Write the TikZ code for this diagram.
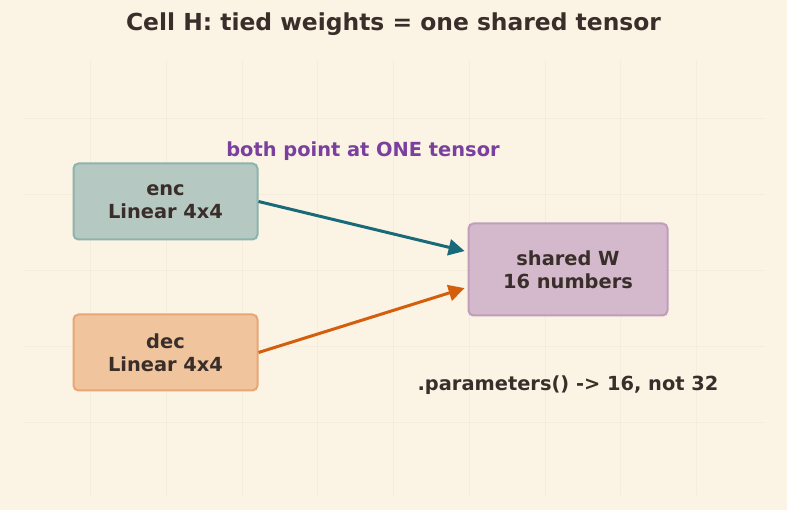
\documentclass[tikz,border=0pt]{standalone}
\usepackage{fontspec}
\setmainfont{DejaVu Sans}
\usetikzlibrary{arrows.meta}

\definecolor{bgcream}{HTML}{FBF3E4}
\definecolor{gridline}{HTML}{F5EDDC}
\definecolor{inkdark}{HTML}{3A2E2A}
\definecolor{encfill}{HTML}{B5C9C2}
\definecolor{encdraw}{HTML}{8DB3AC}
\definecolor{decfill}{HTML}{F0C49D}
\definecolor{decdraw}{HTML}{E8A676}
\definecolor{wfill}{HTML}{D4B9CD}
\definecolor{wdraw}{HTML}{BF9DBB}
\definecolor{encarrow}{HTML}{196A78}
\definecolor{decarrow}{HTML}{D35E0B}
\definecolor{notepurple}{HTML}{7B3F9E}

\tikzset{
  layerbox/.style={rounded corners=5pt, line width=2pt, align=center,
    inner sep=0pt, font=\bfseries\fontsize{19.4}{23}\selectfont, text=inkdark},
  tiearrow/.style={line width=3pt, -{Stealth[length=16pt,width=16pt,inset=0pt]}, shorten >=3pt}
}

\begin{document}
\begin{tikzpicture}[x=1pt,y=1pt,yscale=-1,xscale=1]
%background and faint grid
\fill[bgcream] (0,0) rectangle (787,510);
\useasboundingbox (0,0) rectangle (787,510);
\foreach \gx in {90,166,242,317,393,469,545,620,696}
  \draw[gridline, line width=0.6pt] (\gx,60) -- (\gx,495);
\foreach \gy in {118,194,270,346,422}
  \draw[gridline, line width=0.6pt] (25,\gy) -- (765,\gy);

% Title
\node (title) at (393.5,24) [font=\bfseries\fontsize{23.4}{27}\selectfont, text=inkdark] {Cell H: tied weights = one shared tensor};

% Boxes
\node (enc) at (165.5,201.5) [layerbox, fill=encfill, draw=encdraw, minimum width=184pt, minimum height=76pt] {enc\\Linear 4x4};
\node (dec) at (165.5,352.5) [layerbox, fill=decfill, draw=decdraw, minimum width=184pt, minimum height=76pt] {dec\\Linear 4x4};
\node (shared) at (568,269.5) [layerbox, fill=wfill, draw=wdraw, minimum width=199pt, minimum height=92pt] {shared W\\16 numbers};

% Arrows
\draw[tiearrow, encarrow] (enc.east) -- (shared.170);
\draw[tiearrow, decarrow] (dec.east) -- (shared.190);

% Text Node
\node (note) at (363,151) [font=\bfseries\fontsize{19.4}{22}\selectfont, text=notepurple] {both point at ONE tensor};
% Text Node
\node (params) at (568,385) [font=\bfseries\fontsize{19.4}{22}\selectfont, text=inkdark] {.parameters() -> 16, not 32};

\end{tikzpicture}
\end{document}
